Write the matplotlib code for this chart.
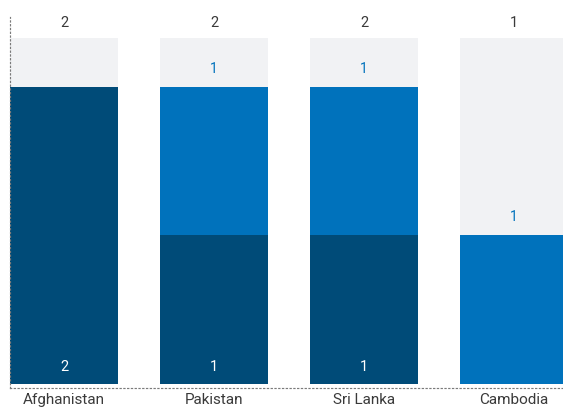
import numpy as np
import matplotlib.pyplot as plt

plt.rcParams['font.family'] = ['Roboto', 'DejaVu Sans']

# counts per country
countries = ['Afghanistan', 'Pakistan', 'Sri Lanka', 'Cambodia']
dark_counts = [2, 1, 1, 0]
blue_counts = [0, 1, 1, 1]
totals = [2, 2, 2, 1]

dark_color = '#004B78'
blue_color = '#0072BC'
bg_color = '#F1F2F4'
text_color = '#3a3a3a'

fig = plt.figure(figsize=(5.63, 4.10), dpi=100)
ax = fig.add_axes([10 / 563, 21 / 410, 553 / 563, 371 / 410])

x = np.arange(len(countries))
bar_width = 0.72
bg_height = 2.33

# light grey backdrop behind each column
ax.bar(x, [bg_height] * len(x), width=bar_width, color=bg_color, zorder=1)

dark = np.array(dark_counts)
blue = np.array(blue_counts)
ax.bar(x, dark, width=bar_width, color=dark_color, zorder=2)
ax.bar(x, blue, width=bar_width, bottom=dark, color=blue_color, zorder=2)

# segment labels
for i in range(len(x)):
    if dark[i] > 0:
        ax.text(x[i], 0.12, str(dark[i]), ha='center', va='center',
                color='white', fontsize=10.5, zorder=3)
    if blue[i] > 0:
        ax.text(x[i], dark[i] + blue[i] + 0.13, str(blue[i]), ha='center',
                va='center', color=blue_color, fontsize=10, zorder=3)
    ax.text(x[i], 2.44, str(totals[i]), ha='center', va='center',
            color=text_color, fontsize=10.5, zorder=3)

ax.set_xlim(-0.36, 3.327)
ax.set_ylim(-0.027, 2.471)
ax.set_xticks(x)
ax.set_xticklabels(countries, fontsize=11, color=text_color)
ax.tick_params(axis='x', length=0, pad=3)
ax.set_yticks([])

for side in ['top', 'right']:
    ax.spines[side].set_visible(False)
for side in ['left', 'bottom']:
    ax.spines[side].set_linestyle((0, (1, 2.2)))
    ax.spines[side].set_color('#7a7a7a')
    ax.spines[side].set_linewidth(0.85)
    ax.spines[side].set_zorder(4)

fig.savefig('out.png', dpi=100)
